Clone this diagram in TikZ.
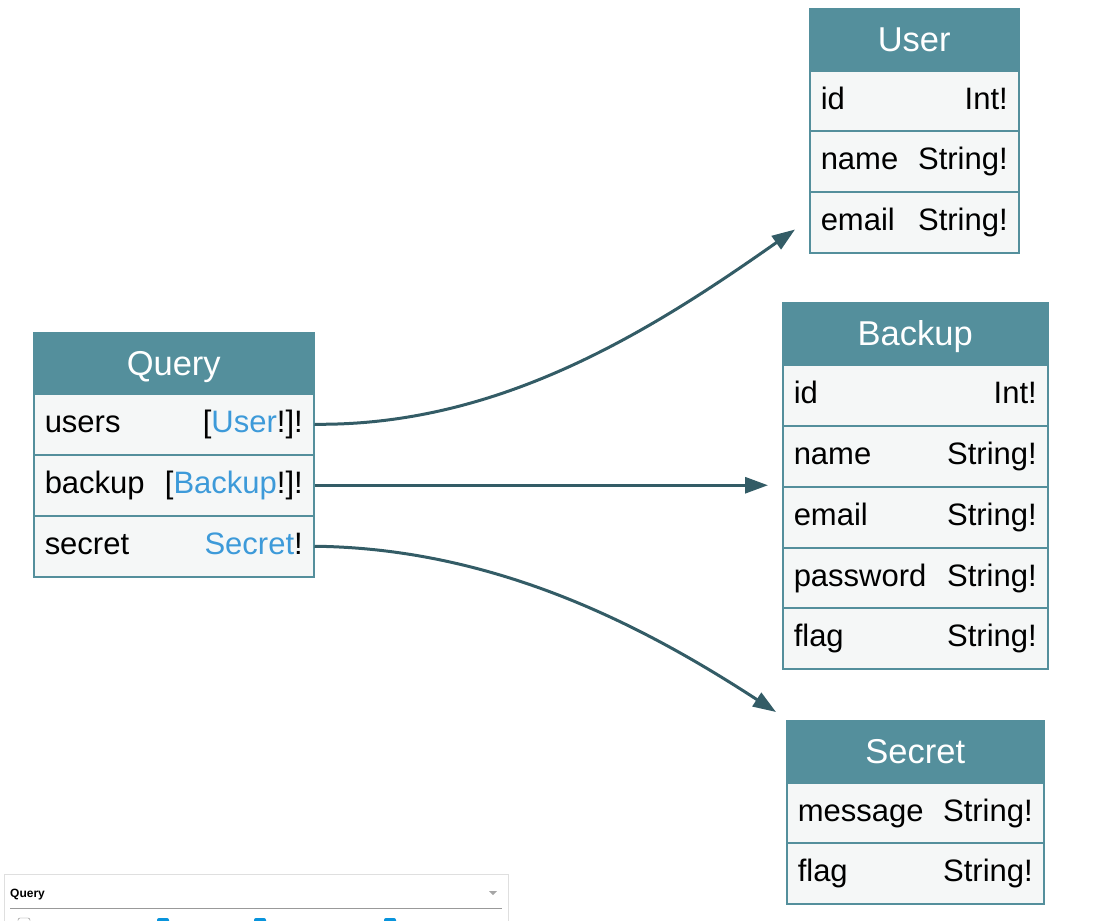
\documentclass[tikz,border=0pt]{standalone}
\usepackage{fontspec}
\setmainfont{Liberation Sans}
\usetikzlibrary{arrows.meta,positioning,calc}

\definecolor{hdrteal}{HTML}{548F9C}
\definecolor{rowbg}{HTML}{F5F7F7}
\definecolor{linkblue}{HTML}{3D9AD9}
\definecolor{edgeteal}{HTML}{335C66}

\tikzset{
  hdr/.style={draw=hdrteal,fill=hdrteal,text=white,minimum height=61,inner xsep=0,
    text height=25,text depth=0,line width=1.5,
    anchor=north west,font=\fontsize{34.5}{36}\selectfont},
  fld/.style={draw=hdrteal,fill=rowbg,minimum height=61,inner xsep=11,inner ysep=0,
    text height=23,text depth=7,line width=1.5,
    anchor=north west,align=left,font=\fontsize{31}{32}\selectfont},
  link/.style={draw=edgeteal,line width=3,-{Triangle[length=23,width=16]}}
}
\newcommand{\tref}[1]{\textcolor{linkblue}{#1}}

\begin{document}
\begin{tikzpicture}[x=1pt,y=-1pt]
  \useasboundingbox (0,0) rectangle (1104,921);
  % Query
  \node[hdr,minimum width=280] (qhead) at (33,332) {Query};
  \node[fld,text width=258] (qusers) at (33,393) {users\hfill [\tref{User}!]!};
  \node[fld,text width=258] (qbackup) at (33,454) {backup\hfill [\tref{Backup}!]!};
  \node[fld,text width=258] (qsecret) at (33,515) {secret\hfill \tref{Secret}!};
  % User
  \node[hdr,minimum width=209] (uhead) at (809,8) {User};
  \node[fld,text width=187] (uid) at (809,70) {id\hfill Int!};
  \node[fld,text width=187] (uname) at (809,130) {name\hfill String!};
  \node[fld,text width=187] (uemail) at (809,191) {email\hfill String!};
  % Backup
  \node[hdr,minimum width=265] (bhead) at (782,302) {Backup};
  \node[fld,text width=243] (bid) at (782,364) {id\hfill Int!};
  \node[fld,text width=243] (bname) at (782,425) {name\hfill String!};
  \node[fld,text width=243] (bemail) at (782,486) {email\hfill String!};
  \node[fld,text width=243] (bpass) at (782,547) {password\hfill String!};
  \node[fld,text width=243] (bflag) at (782,607) {flag\hfill String!};
  % Secret
  \node[hdr,minimum width=257] (shead) at (786,720) {Secret};
  \node[fld,text width=235] (smsg) at (786,782) {message\hfill String!};
  \node[fld,text width=235] (sflag) at (786,842) {flag\hfill String!};
  % edges
  \coordinate (utip) at ($(uemail.south west)+(-14,-24)$);
  \coordinate (btip) at ($(qbackup.east -| bname.west)+(-14,0)$);
  \coordinate (stip) at ($(shead.north west)+(-10,-8)$);
  \draw[link] (qusers.east) .. controls +(185,2) and +(-145,102) .. (utip);
  \draw[link] (qbackup.east) -- (btip);
  \draw[link] (qsecret.east) .. controls +(185,2) and +(-126,-82) .. (stip);
  % panel
  \node[draw=gray!25,minimum width=504,minimum height=60,anchor=north west] (panel) at (4,874) {};
  \node[anchor=base west,inner sep=0,font=\fontsize{12}{12}\selectfont\bfseries] (ptitle) at (10,897) {Query};
  \draw[gray!80] (10,908) -- (502,908);
  \fill[gray!70] (489,891) -- (497,891) -- (493,895) -- cycle;
  \draw[gray,rounded corners=2] (18,918) rectangle (30,930);
  \foreach \xx in {157,254,384}
    \fill[cyan!80!blue,rounded corners=2] (\xx,918) rectangle (\xx+12,930);
\end{tikzpicture}
\end{document}
